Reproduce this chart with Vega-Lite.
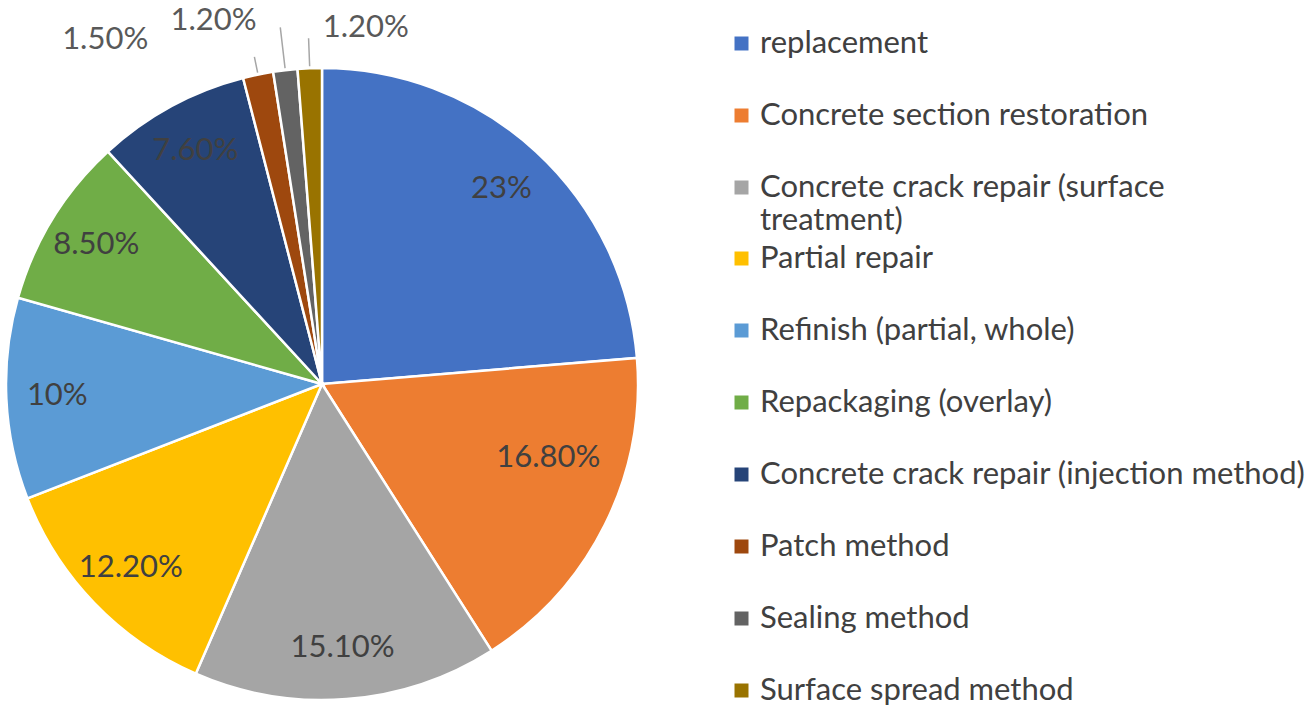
{
  "$schema": "https://vega.github.io/schema/vega-lite/v6.json",
  "width": 632,
  "height": 656,
  "autosize": {"type": "none"},
  "padding": {"left": 6, "top": 56, "right": 672, "bottom": 0},
  "background": "white",
  "config": {"view": {"stroke": null}, "font": "Lato"},
  "data": {
    "values": [
      {"rank": 1, "category": "replacement", "value": 23, "label": "23%"},
      {"rank": 2, "category": "Concrete section restoration", "value": 16.8, "label": "16.80%"},
      {"rank": 3, "category": "Concrete crack repair (surface treatment)", "value": 15.1, "label": "15.10%"},
      {"rank": 4, "category": "Partial repair", "value": 12.2, "label": "12.20%"},
      {"rank": 5, "category": "Refinish (partial, whole)", "value": 10, "label": "10%"},
      {"rank": 6, "category": "Repackaging (overlay)", "value": 8.5, "label": "8.50%"},
      {"rank": 7, "category": "Concrete crack repair (injection method)", "value": 7.6, "label": "7.60%"},
      {"rank": 8, "category": "Patch method", "value": 1.5, "label": "1.50%"},
      {"rank": 9, "category": "Sealing method", "value": 1.2, "label": "1.20%"},
      {"rank": 10, "category": "Surface spread method", "value": 1.2, "label": "1.20%"}
    ]
  },
  "encoding": {
    "theta": {"field": "value", "type": "quantitative", "stack": true},
    "order": {"field": "rank", "type": "quantitative"}
  },
  "layer": [
    {
      "mark": {"type": "arc", "outerRadius": 316, "stroke": "white", "strokeWidth": 2.5},
      "encoding": {
        "color": {
          "field": "category",
          "type": "nominal",
          "scale": {
            "domain": ["replacement", "Concrete section restoration", "Concrete crack repair (surface treatment)", "Partial repair", "Refinish (partial, whole)", "Repackaging (overlay)", "Concrete crack repair (injection method)", "Patch method", "Sealing method", "Surface spread method"],
            "range": ["#4472C4", "#ED7D31", "#A5A5A5", "#FFC000", "#5B9BD5", "#70AD47", "#264478", "#9E480E", "#636363", "#997300"]
          },
          "legend": {
            "title": null,
            "orient": "none",
            "legendX": 720,
            "legendY": -28,
            "padding": 0,
            "values": ["replacement", "Concrete section restoration", "Concrete crack repair (surface treatment)"],
            "symbolType": "square",
            "symbolSize": 196,
            "symbolStrokeWidth": 0,
            "labelFont": "Lato",
            "labelFontSize": 31,
            "labelColor": "#404040",
            "labelOffset": 3,
            "labelLimit": 700,
            "rowPadding": 40,
            "labelExpr": "datum.label == 'Concrete crack repair (surface treatment)' ? ['Concrete crack repair (surface', 'treatment)'] : datum.label",
            "encode": {"labels": {"update": {"lineHeight": {"value": 34}}}}
          }
        }
      }
    },
    {
      "transform": [{"filter": "datum.rank >= 4"}],
      "mark": {"type": "arc", "outerRadius": 316, "opacity": 0},
      "encoding": {
        "fill": {
          "field": "category",
          "type": "nominal",
          "scale": {
            "domain": ["Partial repair", "Refinish (partial, whole)", "Repackaging (overlay)", "Concrete crack repair (injection method)", "Patch method", "Sealing method", "Surface spread method"],
            "range": ["#FFC000", "#5B9BD5", "#70AD47", "#264478", "#9E480E", "#636363", "#997300"]
          },
          "legend": {
            "title": null,
            "orient": "none",
            "legendX": 720,
            "legendY": 187,
            "padding": 0,
            "symbolType": "square",
            "symbolSize": 196,
            "symbolStrokeWidth": 0,
            "symbolOpacity": 1,
            "labelFont": "Lato",
            "labelFontSize": 31,
            "labelColor": "#404040",
            "labelOffset": 3,
            "labelLimit": 700,
            "rowPadding": 40
          }
        }
      }
    },
    {
      "mark": {"type": "arc", "innerRadius": 318, "outerRadius": 334, "padAngle": 0.5, "stroke": "#A6A6A6", "strokeWidth": 1.5, "fill": "transparent"},
      "encoding": {
        "strokeOpacity": {"condition": {"test": "datum.rank == 8", "value": 1}, "value": 0}
      }
    },
    {
      "mark": {"type": "arc", "innerRadius": 318, "outerRadius": 359, "padAngle": 0.5, "stroke": "#A6A6A6", "strokeWidth": 1.5, "fill": "transparent"},
      "encoding": {
        "strokeOpacity": {"condition": {"test": "datum.rank == 9", "value": 1}, "value": 0}
      }
    },
    {
      "mark": {"type": "arc", "innerRadius": 318, "outerRadius": 346, "padAngle": 0.5, "stroke": "#A6A6A6", "strokeWidth": 1.5, "fill": "transparent"},
      "encoding": {
        "strokeOpacity": {"condition": {"test": "datum.rank == 10", "value": 1}, "value": 0}
      }
    },
    {
      "mark": {"type": "text", "radius": 265, "fontSize": 31, "fill": "#404040"},
      "encoding": {
        "text": {"field": "label"},
        "opacity": {"condition": {"test": "datum.value >= 5 && datum.rank != 2", "value": 1}, "value": 0}
      }
    },
    {
      "mark": {"type": "text", "radius": 265, "fontSize": 31, "fill": "#404040", "dx": -11, "dy": -44},
      "encoding": {
        "text": {"field": "label"},
        "opacity": {"condition": {"test": "datum.rank == 2", "value": 1}, "value": 0}
      }
    },
    {
      "mark": {"type": "text", "radius": 340, "fontSize": 31, "fill": "#595959", "dx": -148, "dy": -11},
      "encoding": {
        "text": {"field": "label"},
        "opacity": {"condition": {"test": "datum.rank == 8", "value": 1}, "value": 0}
      }
    },
    {
      "mark": {"type": "text", "radius": 340, "fontSize": 31, "fill": "#595959", "dx": -69, "dy": -25},
      "encoding": {
        "text": {"field": "label"},
        "opacity": {"condition": {"test": "datum.rank == 9", "value": 1}, "value": 0}
      }
    },
    {
      "mark": {"type": "text", "radius": 340, "fontSize": 31, "fill": "#595959", "dx": 57, "dy": -16},
      "encoding": {
        "text": {"field": "label"},
        "opacity": {"condition": {"test": "datum.rank == 10", "value": 1}, "value": 0}
      }
    }
  ]
}
